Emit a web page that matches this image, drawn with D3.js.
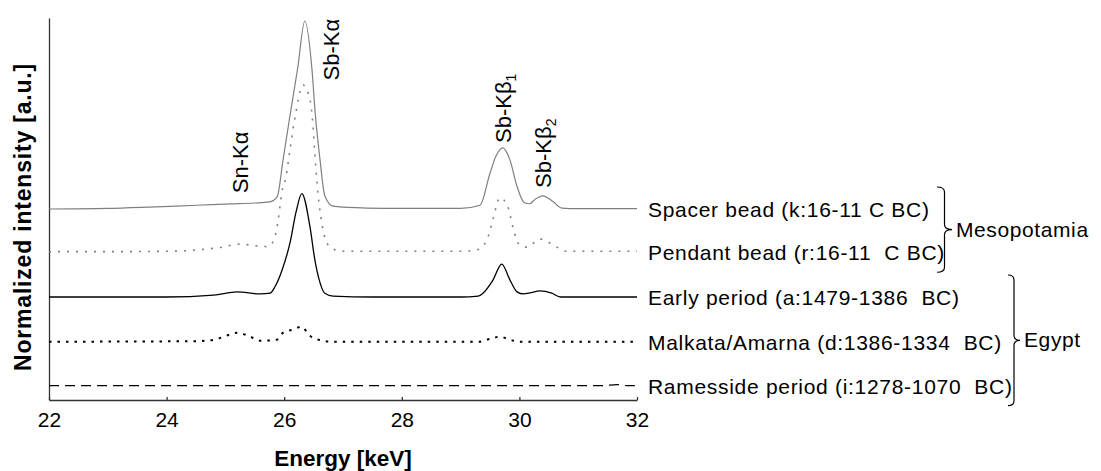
<!DOCTYPE html>
<html>
<head>
<meta charset="utf-8">
<script src="https://cdn.jsdelivr.net/npm/d3@7"></script>
<style>
  body { margin: 0; background: #fff; }
  text { font-family: Arial, "Liberation Sans", sans-serif; }
</style>
</head>
<body>
<div id="chart"></div>
<script>
// spectra: [energy keV, intensity a.u.] (Sb-Ka of spacer bead = 100)
const spacer = [[22,0],[23,0.3],[23.7,1],[24.5,2],[25.1,2.7],[25.5,3.2],[25.75,3.8],[25.88,6.5],[25.98,26],[26.1,50],[26.23,75],[26.35,100],[26.47,75],[26.53,50],[26.61,26],[26.69,7],[26.83,1.5],[27.4,0.5],[28,0.3],[29,0.3],[29.33,2],[29.5,19],[29.6,28],[29.72,32.5],[29.84,26],[29.96,12],[30.08,3.5],[30.17,2.8],[30.28,5.5],[30.4,7],[30.57,4],[30.72,0.5],[31,0.2],[32,0.2]];
const pendant = [[22,0.3],[23,0.3],[24,0.5],[24.9,2.5],[25.25,4.3],[25.5,3.5],[25.72,3],[25.83,7],[25.9,17.5],[25.96,32],[26.03,40],[26.1,55],[26.18,71],[26.32,89],[26.44,81],[26.49,67],[26.52,53],[26.56,36],[26.63,17.5],[26.7,7],[26.81,2],[27,0.5],[28,0.5],[29,0.5],[29.3,1.5],[29.47,8.5],[29.55,17.5],[29.67,29],[29.8,24.5],[29.9,12],[30,4],[30.13,2.7],[30.35,7],[30.64,2.7],[30.8,0.5],[32,0.5]];
const early = [[22,0],[24,0],[24.8,1],[25.2,2.7],[25.59,1.6],[25.76,2],[25.84,5.3],[25.96,14],[26.1,29],[26.2,45],[26.3,55],[26.44,37],[26.52,20],[26.61,7.5],[26.69,2],[26.83,0.5],[27.5,0],[29,0],[29.3,0.5],[29.38,2],[29.55,9],[29.7,17.5],[29.84,9],[29.96,2.7],[30.07,1.6],[30.2,2.3],[30.35,3.2],[30.55,2],[30.7,0],[32,0]];
const malkata = [[22,0],[24.5,0.3],[24.8,1],[25,3],[25.2,4.8],[25.4,3],[25.6,0.5],[25.87,1],[25.98,4.8],[26.15,6.5],[26.3,8],[26.4,4.5],[26.49,2],[26.83,0],[29.3,0],[29.5,1.5],[29.67,2.7],[29.8,1.5],[30,0],[32,0]];
const ramesside = [[22,0],[31.4,0],[31.66,0.6],[31.85,0],[32,0]];

const seriesData = [spacer, pendant, early, malkata, ramesside];
const seriesNames = ["Spacer bead (k:16-11 C BC)", "Pendant bead (r:16-11  C BC)", "Early period (a:1479-1386  BC)", "Malkata/Amarna (d:1386-1334  BC)", "Ramesside period (i:1278-1070  BC)"];
const seriesOffset = [101.6, 78.6, 54.8, 31.0, 7.6];
const seriesColor = ["#7f7f7f", "#7f7f7f", "#000", "#000", "#000"];
const seriesWidth = [1.2, 1.6, 1.3, 2, 1.2];
const seriesDash = [null, "2,7", null, "2.5,6", "10,6"];

const xTicks = [22, 24, 26, 28, 30, 32];

const peakNames = ["Sn-K\u03b1", "Sb-K\u03b1", "Sb-K\u03b2", "Sb-K\u03b2"];
const peakSub = ["", "", "1", "2"];
const peakE = [25.38, 26.93, 29.86, 30.54];
const peakY = [110, 170, 136.7, 112.8];

const groups = ["Mesopotamia", "Egypt"];
const groupFrom = [0, 2];
const groupTo = [1, 4];

const W = 1101, H = 471;
const svg = d3.select("#chart").append("svg")
    .attr("width", W)
    .attr("height", H);

const x = d3.scaleLinear().domain([22, 32]).range([49, 637]);
const y = d3.scaleLinear().domain([0, 203.2]).range([400, 18]);

// axes
svg.append("g")
    .attr("transform", `translate(0,${y(0)})`)
    .call(d3.axisBottom(x).tickValues(xTicks).tickSizeInner(-3).tickSizeOuter(0).tickPadding(12))
    .call(g => g.selectAll("path, line").attr("stroke", "#333").attr("stroke-width", 1.3))
    .call(g => g.selectAll("text").attr("font-size", 21).attr("fill", "#000")
        .attr("font-family", "Arial, 'Liberation Sans', sans-serif"));

svg.append("g")
    .attr("transform", `translate(${x(22)},0)`)
    .call(d3.axisLeft(y).ticks(0).tickSizeOuter(0))
    .call(g => g.selectAll("path").attr("stroke", "#333").attr("stroke-width", 1.3));

svg.append("text")
    .attr("x", (x(22) + x(32)) / 2)
    .attr("y", 466)
    .attr("text-anchor", "middle")
    .attr("font-size", 22.5)
    .attr("font-weight", "bold")
    .text("Energy [keV]");

svg.append("text")
    .attr("transform", `translate(31,217) rotate(-90)`)
    .attr("text-anchor", "middle")
    .attr("font-size", 23)
    .attr("font-weight", "bold")
    .attr("letter-spacing", 0.8)
    .text("Normalized intensity [a.u.]");

// spectra
const line = d3.line()
    .x(d => x(d[0]))
    .y(d => d.y)
    .curve(d3.curveMonotoneX);

seriesData.forEach((s, i) => {
    const pts = s.map(d => { const p = [d[0], d[1]]; p.y = y(d[1] + seriesOffset[i]); return p; });
    svg.append("path")
        .datum(pts)
        .attr("fill", "none")
        .attr("stroke", seriesColor[i])
        .attr("stroke-width", seriesWidth[i])
        .attr("stroke-dasharray", seriesDash[i])
        .attr("d", line);
});

// series labels
svg.selectAll(".slabel")
    .data(seriesNames)
    .enter()
    .append("text")
    .attr("class", "slabel")
    .attr("x", x(32) + 11)
    .attr("y", (d, i) => y(seriesOffset[i]) + 8)
    .attr("font-size", 21)
    .attr("letter-spacing", 0.7)
    .attr("xml:space", "preserve")
    .style("white-space", "pre")
    .text(d => d);

// peak labels
peakNames.forEach((p, i) => {
    const t = svg.append("text")
        .attr("transform", `translate(${x(peakE[i])},${y(peakY[i])}) rotate(-90)`)
        .attr("font-size", 22)
        .text(p);
    if (peakSub[i]) {
        t.append("tspan")
            .attr("font-size", 14)
            .attr("dy", 5)
            .text(peakSub[i]);
    }
});

// group braces
const braceX = [937, 1008];
const braceW = [15, 12];
groups.forEach((g, i) => {
    const y0 = y(seriesOffset[groupFrom[i]]) - 22;
    const y1 = y(seriesOffset[groupTo[i]]) + 20;
    const ym = (y0 + y1) / 2;
    const x0 = braceX[i], w = braceW[i], xm = x0 + w / 2, r = 5;
    const p = d3.path();
    p.moveTo(x0, y0);
    p.quadraticCurveTo(xm, y0, xm, y0 + r);
    p.lineTo(xm, ym - r);
    p.quadraticCurveTo(xm, ym, x0 + w, ym);
    p.quadraticCurveTo(xm, ym, xm, ym + r);
    p.lineTo(xm, y1 - r);
    p.quadraticCurveTo(xm, y1, x0, y1);
    svg.append("path")
        .attr("d", p.toString())
        .attr("fill", "none")
        .attr("stroke", "#000")
        .attr("stroke-width", 1.2);
    svg.append("text")
        .attr("x", x0 + w + 4)
        .attr("y", ym + 7)
        .attr("font-size", 21)
        .attr("letter-spacing", 0.6)
        .text(g);
});
</script>
</body>
</html>
